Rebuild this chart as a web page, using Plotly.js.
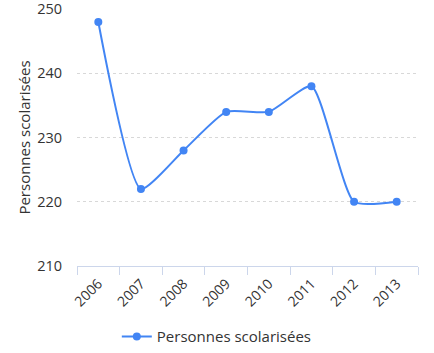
<!DOCTYPE html>
<html><head><meta charset="utf-8">
<script src="https://cdn.plot.ly/plotly-3.0.1.min.js"></script>
<style>html,body{margin:0;padding:0;background:#fff}#chart{width:434px;height:353px}</style>
</head><body><div id="chart"></div>
<script>
const years = ["2006","2007","2008","2009","2010","2011","2012","2013"];
const personnes = [248, 222, 228, 234, 234, 238, 220, 220];
const seriesName = "Personnes scolarisées";
const yTitle = "Personnes scolarisées";

const font = "Open Sans, Lato, sans-serif";
Plotly.newPlot("chart", [{
  x: years, y: personnes, type: "scatter", mode: "lines+markers",
  name: seriesName,
  line: {color: "#4285F4", width: 2, shape: "spline", smoothing: 0.55},
  marker: {color: "#4285F4", size: 8}
}], {
  width: 434, height: 353,
  margin: {l: 77, r: 16, t: 9, b: 87, autoexpand: false},
  paper_bgcolor: "#fff", plot_bgcolor: "#fff",
  font: {family: font, color: "#333", size: 13},
  showlegend: true,
  legend: {orientation: "h", x: 0.41, xanchor: "center", y: -0.275, yanchor: "middle",
           font: {size: 15, color: "#333"}},
  xaxis: {type: "category", tickson: "boundaries", ticks: "outside", ticklen: 8,
          tickcolor: "#ccd6eb", showline: true, linecolor: "#ccd6eb", linewidth: 1,
          showgrid: false, tickangle: -45, tickfont: {size: 14, color: "#333"},
          ticklabelstandoff: 3, range: [-0.5, 7.5], automargin: false},
  yaxis: {range: [210, 250.02], tickmode: "array", tickvals: [210, 220, 230, 240, 250],
          ticktext: ["210", "220", "230", "240", "250"], showgrid: true, ticklabeloverflow: "allow",
          gridcolor: "#d8d8d8", griddash: "dot", zeroline: false, showline: false,
          ticks: "", ticklabelstandoff: 14, tickfont: {size: 14.5, color: "#333"}, automargin: false,
          title: {text: yTitle, font: {size: 15, color: "#333"}, standoff: 2}}
}, {displayModeBar: false, staticPlot: true});
</script></body></html>
